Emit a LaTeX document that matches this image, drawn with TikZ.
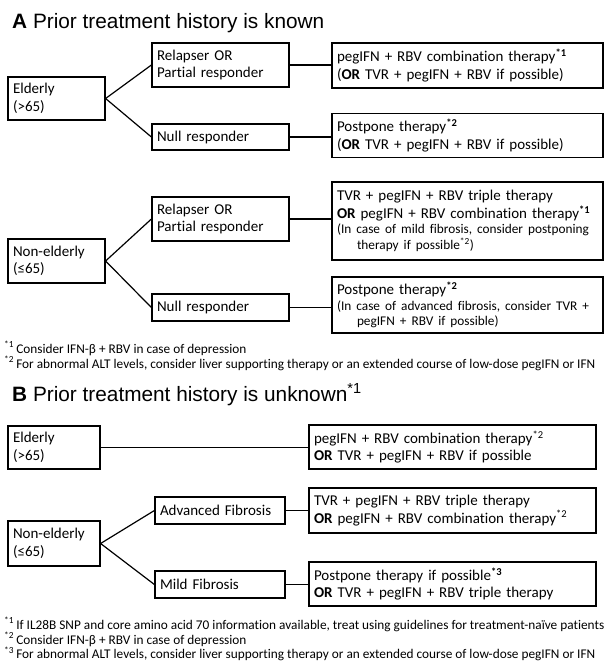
\documentclass[tikz,border=0pt]{standalone}
\usepackage{fontspec}
\setmainfont{Carlito}[Ligatures={NoCommon}]
\newfontfamily\arialf{Liberation Sans}
\newcommand\mainsz{\fontsize{15}{17.5}\selectfont}
\newcommand\smallsz{\fontsize{13.3}{15.5}\selectfont}
\newcommand\notesz{\fontsize{13.3}{15}\selectfont}
\newcommand\titlesz{\fontsize{20.8}{24}\selectfont}
\newcommand\sst[1]{\textsuperscript{\textbf{#1}}}
\begin{document}
\begin{tikzpicture}[x=1pt,y=-1pt,
  box/.style={draw, line width=1.2pt, inner xsep=5pt, inner ysep=0pt, align=left, font=\mainsz},
  lboxA/.style={box, text width=87pt},
  mboxA/.style={box, text width=127pt},
  rboxA/.style={box, text width=261pt},
  lboxB/.style={box, text width=82pt},
  mboxB/.style={box, text width=120pt},
  rboxB/.style={box, text width=277pt},
  conn/.style={line width=1.2pt},
  title/.style={anchor=base west, inner sep=0pt, font=\arialf\titlesz},
  note/.style={anchor=base west, inner sep=0pt, font=\notesz}]
\useasboundingbox[fill=white] (0,0) rectangle (609,662);

% ---------------- A ----------------
\node[title] (titA) at (12,28) {\textbf{A} Prior treatment history is known};

\node[lboxA, minimum height=43pt] (eldA) at (56.5,98.5) {Elderly\\(>65)};
\node[mboxA, minimum height=44pt] (relA) at (220.5,65) {Relapser OR\\Partial responder};
\node[mboxA, minimum height=26pt] (nulA) at (220.5,137) {Null responder};
\node[rboxA, minimum height=45pt] (pegA) at (467.5,65.5) {pegIFN + RBV combination therapy\sst{*1}\\(\textbf{OR} TVR + pegIFN + RBV if possible)};
\node[rboxA, minimum height=44pt] (pstA) at (467.5,135.5) {Postpone therapy\sst{*2}\\(\textbf{OR} TVR + pegIFN + RBV if possible)};

\node[lboxA, minimum height=44pt] (neA) at (56.5,261) {Non-elderly\\(≤65)};
\node[mboxA, minimum height=44pt] (rel2A) at (220.5,219) {Relapser OR\\Partial responder};
\node[mboxA, minimum height=27pt] (nul2A) at (220.5,307.5) {Null responder};
\node[rboxA, minimum height=78pt] (tvrA) at (467.5,221) {TVR + pegIFN + RBV triple therapy\\\textbf{OR} pegIFN + RBV combination therapy\sst{*1}\par
{\smallsz (In case of mild fibrosis, consider postponing\\\hspace*{20pt}therapy if possible\textsuperscript{*2})\par}};
\node[rboxA, minimum height=56pt] (pst2A) at (467.5,305) {Postpone therapy\sst{*2}\par
{\smallsz (In case of advanced fibrosis, consider TVR +\\\hspace*{20pt}pegIFN + RBV if possible)\par}};

\draw[conn] (eldA.east) -- (relA.west);
\draw[conn] (eldA.east) -- (nulA.west);
\draw[conn] (relA.east) -- (relA.east -| pegA.west);
\draw[conn] (nulA.east) -- (nulA.east -| pstA.west);
\draw[conn] (neA.east) -- (rel2A.west);
\draw[conn] (neA.east) -- (nul2A.west);
\draw[conn] (rel2A.east) -- (rel2A.east -| tvrA.west);
\draw[conn] (nul2A.east) -- (nul2A.east -| pst2A.west);

\node[note] (fa1) at (4,353) {\textsuperscript{*1}\,Consider IFN-β + RBV in case of depression};
\node[note] (fa2) at (4,368) {\textsuperscript{*2}\,For abnormal ALT levels, consider liver supporting therapy or an extended course of low-dose pegIFN or IFN};

% ---------------- B ----------------
\node[title] (titB) at (12,401) {\textbf{B} Prior treatment history is unknown\textsuperscript{*1}};

\node[lboxB, minimum height=43pt] (eldB) at (54,447.5) {Elderly\\(>65)};
\node[rboxB, minimum height=44pt] (pegB) at (452.5,447) {pegIFN + RBV combination therapy\textsuperscript{*2}\\\textbf{OR} TVR + pegIFN + RBV if possible};

\node[lboxB, minimum height=45pt] (neB) at (54,543.5) {Non-elderly\\(≤65)};
\node[mboxB, minimum height=27pt] (advB) at (220,510.5) {Advanced Fibrosis};
\node[mboxB, minimum height=27pt] (mildB) at (220,584.5) {Mild Fibrosis};
\node[rboxB, minimum height=45pt] (tvrB) at (452.5,510.5) {TVR + pegIFN + RBV triple therapy\\\textbf{OR} pegIFN + RBV combination therapy\textsuperscript{*2}};
\node[rboxB, minimum height=44pt] (pstB) at (452.5,584) {Postpone therapy if possible\sst{*3}\\\textbf{OR} TVR + pegIFN + RBV triple therapy};

\draw[conn] (eldB.east) -- (eldB.east -| pegB.west);
\draw[conn] (neB.east) -- (advB.west);
\draw[conn] (neB.east) -- (mildB.west);
\draw[conn] (advB.east) -- (advB.east -| tvrB.west);
\draw[conn] (mildB.east) -- (mildB.east -| pstB.west);

\node[note] (fb1) at (4,629) {\textsuperscript{*1}\,If IL28B SNP and core amino acid 70 information available, treat using guidelines for treatment-naïve patients};
\node[note] (fb2) at (4,644) {\textsuperscript{*2}\,Consider IFN-β + RBV in case of depression};
\node[note] (fb3) at (4,658.5) {\textsuperscript{*3}\,For abnormal ALT levels, consider liver supporting therapy or an extended course of low-dose pegIFN or IFN};
\end{tikzpicture}
\end{document}
